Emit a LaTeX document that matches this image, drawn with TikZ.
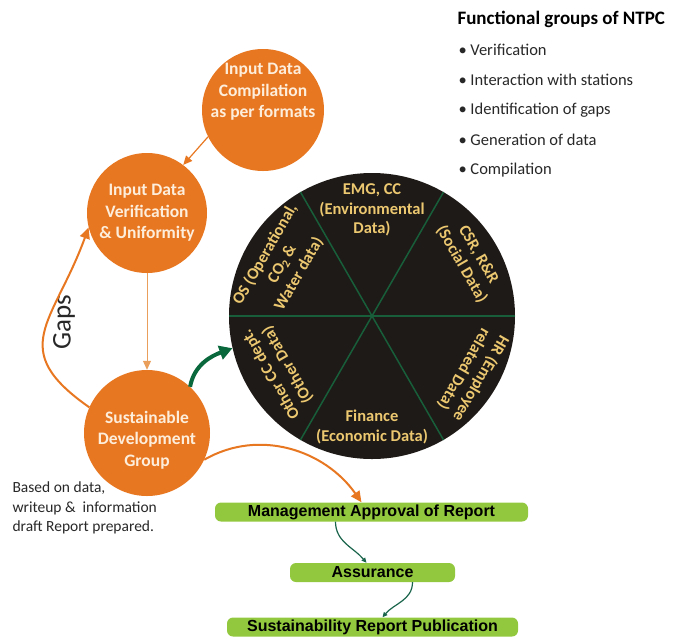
\documentclass[tikz,border=0pt]{standalone}
\usepackage{fontspec}
\setmainfont{Carlito}
\newfontfamily\arialfont{Liberation Sans}
\usetikzlibrary{arrows.meta,positioning}
\definecolor{ntpcorange}{RGB}{232,119,34}
\definecolor{paleorange}{RGB}{234,160,90}
\definecolor{cream}{RGB}{253,238,220}
\definecolor{wheelblack}{RGB}{30,26,23}
\definecolor{spokegreen}{RGB}{24,94,58}
\definecolor{labelgold}{RGB}{236,200,112}
\definecolor{boxgreen}{RGB}{146,200,62}
\definecolor{arrowgreen}{RGB}{10,105,60}
\definecolor{tealgreen}{RGB}{25,100,75}
\definecolor{ink}{RGB}{40,40,40}

\begin{document}
\begin{tikzpicture}[x=1pt, y=1pt,
	orb/.style = {circle, fill=ntpcorange, inner sep=0pt},
	orbtext/.style = {text=cream, align=center, font=\bfseries\fontsize{17.5}{21.5}\selectfont},
	sector/.style = {text=labelgold, align=center, font=\bfseries\fontsize{16.5}{19.5}\selectfont},
	slab/.style = {fill=boxgreen, rounded corners=6pt, minimum height=19pt, inner sep=0pt, font=\arialfont\bfseries\fontsize{16}{17}\selectfont},
	item/.style = {anchor=west, text=ink, font=\fontsize{16.5}{19}\selectfont},
	spoke/.style = {draw=spokegreen, line width=1.5pt},
	feed/.style = {draw=ntpcorange, line width=1.2pt, -{Triangle[length=9pt,width=8pt]}},
	flow/.style = {draw=tealgreen, line width=1.2pt, -{Triangle[length=5pt,width=4.5pt]}}]
	\useasboundingbox (0,0) rectangle (675,-641);

	% orange circles
	\node[orb, minimum size=122pt] (comp) at (263,-110) {};
	\node[orbtext] (compt) at ([yshift=18pt]comp.center) {Input Data\\Compilation\\as per formats};
	\node[orb, minimum size=120pt] (verif) at (147,-213) {};
	\node[orbtext] (verift) at (verif.center) {Input Data\\Verification\\\& Uniformity};
	\node[orb, minimum size=126pt] (sdg) at (147,-433) {};
	\node[orbtext] (sdgt) at ([yshift=-7pt]sdg.center) {Sustainable\\Development\\Group};

	% wheel of departments
	\node[circle, fill=wheelblack, minimum size=286pt, inner sep=0pt] (wheel) at (372,-316) {};
	\draw[spoke] (wheel.0) -- (wheel.180);
	\draw[spoke] (wheel.60) -- (wheel.240);
	\draw[spoke] (wheel.120) -- (wheel.300);
	\node[sector] (env) at ([shift={(90:106)}]wheel.center) {EMG, CC\\(Environmental\\Data)};
	\node[sector, rotate=-60] (soc) at ([shift={(30:113)}]wheel.center) {CSR, R\&R\\(Social Data)};
	\node[sector, rotate=240] (hr) at ([shift={(-30:116)}]wheel.center) {HR (Employee\\related Data)};
	\node[sector] (fin) at ([shift={(-90:111)}]wheel.center) {Finance\\(Economic Data)};
	\node[sector, rotate=120] (oth) at ([shift={(210:107)}]wheel.center) {Other CC dept.\\(Other Data)};
	\node[sector, rotate=60] (ops) at ([shift={(150:104)}]wheel.center) {OS (Operational,\\CO\textsubscript{2} \&\\Water data)};

	% report boxes
	\node[slab, minimum width=313pt] (mgmt) at (371.5,-512) {Management Approval of Report};
	\node[slab, minimum width=165pt] (assur) at (372.5,-572.5) {Assurance};
	\node[slab, minimum width=291pt] (pub) at (372.5,-627) {Sustainability Report Publication};

	% text
	\node[item, text=black, font=\bfseries\fontsize{19}{22}\selectfont] (title) at (454,-19) {Functional groups of NTPC};
	\node[item] (i1) at (455,-50) {\textbullet\ Verification};
	\node[item] (i2) at (455,-80) {\textbullet\ Interaction with stations};
	\node[item] (i3) at (455,-110) {\textbullet\ Identification of gaps};
	\node[item] (i4) at (455,-140) {\textbullet\ Generation of data};
	\node[item] (i5) at (455,-170) {\textbullet\ Compilation};
	\node[item, align=left, font=\fontsize{15.5}{19.5}\selectfont] (note) at (9,-508) {Based on data,\\writeup \&~ information\\draft Report prepared.};
	\node[rotate=90, text=ink, font=\fontsize{27}{30}\selectfont] (gaps) at (64,-322) {Gaps};

	% connectors
	\draw[feed] (comp.206) -- (verif.53);
	\draw[feed, draw=paleorange, line width=1pt] (verif.south) -- (sdg.north);
	\draw[feed, line width=2pt, -{Triangle[length=11pt,width=10pt]}] (sdg.156) to[out=145, in=250, looseness=1.45] (verif.194);
	\draw[draw=arrowgreen, line width=4pt, -{Triangle[length=13pt,width=14pt]}] (sdg.47) to[out=80, in=200] (wheel.193);
	\draw[feed, line width=2pt, -{Triangle[length=11pt,width=10pt]}] (sdg.335) to[out=30, in=125] ([xshift=-10pt]mgmt.north);
	\draw[flow] ([xshift=-36pt]mgmt.south) to[out=-90, in=130] ([xshift=-6pt]assur.north);
	\draw[flow] ([xshift=40pt]assur.south) to[out=-90, in=50] ([xshift=10pt]pub.north);
\end{tikzpicture}
\end{document}
